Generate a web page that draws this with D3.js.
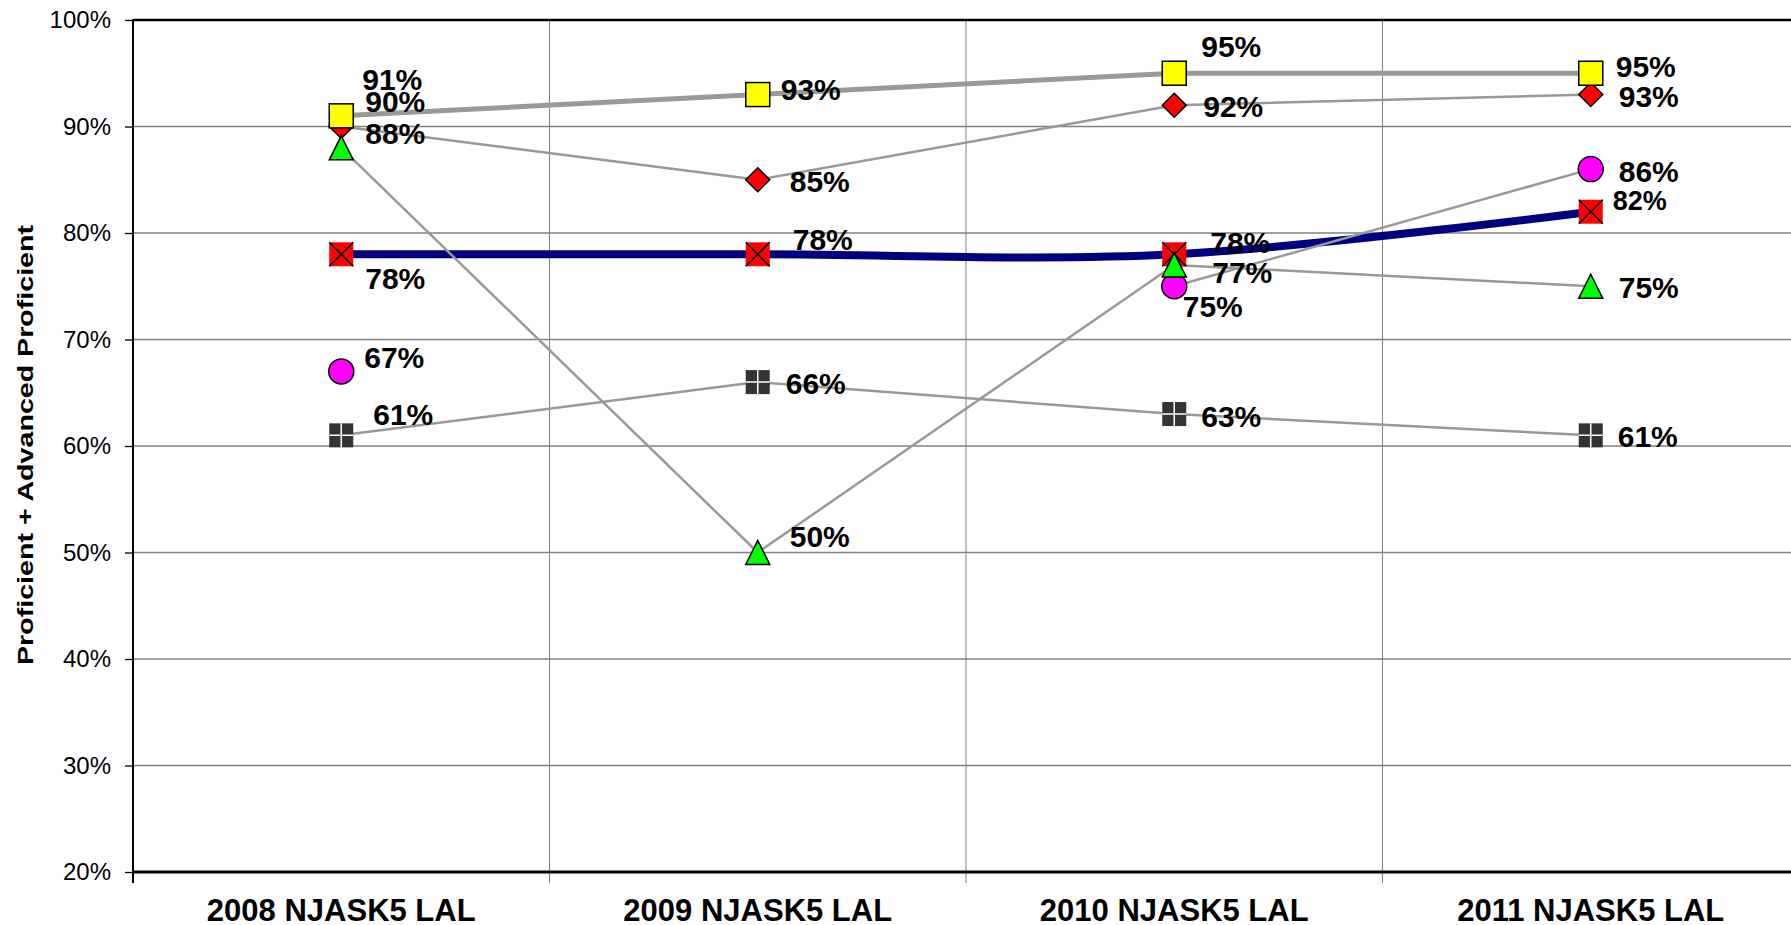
<!DOCTYPE html>
<html>
<head>
<meta charset="utf-8">
<script src="https://cdn.jsdelivr.net/npm/d3@7"></script>
<style>
  body { margin: 0; background: #fff; }
  svg { display: block; font-family: "Liberation Sans", Arial, sans-serif; }
</style>
</head>
<body>
<svg id="chart" width="1791" height="925"></svg>
<script>
// ---- data ----
const categories = ["2008 NJASK5 LAL", "2009 NJASK5 LAL", "2010 NJASK5 LAL", "2011 NJASK5 LAL"];
const navyValues     = [0.78, 0.78, 0.78, 0.82];
const yellowValues   = [0.91, 0.93, 0.95, 0.95];
const diamondValues  = [0.90, 0.85, 0.92, 0.93];
const triangleValues = [0.88, 0.50, 0.77, 0.75];
const circleValues   = [0.67, null, 0.75, 0.86];
const gridValues     = [0.61, 0.66, 0.63, 0.61];
const yTicks = [0.2, 0.3, 0.4, 0.5, 0.6, 0.7, 0.8, 0.9, 1.0];
const yTitle = "Proficient + Advanced Proficient";

// ---- label nudges (dx from marker centre, dy to text baseline) ----
const labelNudge = {
  navy:     [[24, 35], [35, -4], [36, -1], [22, -2]],
  yellow:   [[21, -26], [23, 5.5], [27, -16], [25, 4]],
  diamond:  [[24, -14.5], [32, 12], [29, 12], [28, 12]],
  triangle: [[24, -4], [32, -6], [38, 17.7], [28, 12]],
  circle:   [[23, -3], [0, 0], [8.5, 31], [28, 12.6]],
  grid:     [[32, -10], [28, 12], [27, 12.7], [27, 12]]
};

// ---- layout ----
const W = 1791, H = 925;
const plot = { left: 133, top: 20, width: 1666, height: 852 };
const svg = d3.select("#chart");

const x = d3.scaleBand().domain(categories)
  .range([plot.left, plot.left + plot.width]).paddingInner(0).paddingOuter(0);
const y = d3.scaleLinear().domain([0.2, 1.0]).range([plot.top + plot.height, plot.top]);
const cx = c => x(c) + x.bandwidth() / 2;
const pct = d3.format(".0%");
const bottom = plot.top + plot.height;
const right = plot.left + plot.width;

// ---- gridlines ----
const grid = svg.append("g");
grid.selectAll("line.h").data(yTicks.filter(t => t > 0.2 && t < 1.0)).join("line")
  .attr("x1", plot.left).attr("x2", right)
  .attr("y1", d => y(d)).attr("y2", d => y(d))
  .attr("stroke", "#808080").attr("stroke-width", 1.4);
grid.selectAll("line.v").data(categories.slice(1)).join("line")
  .attr("x1", d => x(d)).attr("x2", d => x(d))
  .attr("y1", plot.top).attr("y2", bottom + 11)
  .attr("stroke", "#808080").attr("stroke-width", 1);

// ---- y axis ----
const yAxis = svg.append("g").attr("transform", `translate(${plot.left},0)`)
  .call(d3.axisLeft(y).tickValues(yTicks).tickFormat(pct).tickSize(8).tickPadding(14));
yAxis.select(".domain").remove();
yAxis.selectAll(".tick line").attr("stroke", "#000").attr("stroke-width", 1.3);
yAxis.selectAll(".tick text").attr("font-size", 24).attr("fill", "#000")
  .attr("font-family", "'Liberation Sans', Arial, sans-serif");

// ---- x axis ----
const xAxis = svg.append("g").attr("transform", `translate(0,${bottom})`)
  .call(d3.axisBottom(x).tickSize(0).tickPadding(27));
xAxis.select(".domain").remove();
xAxis.selectAll(".tick text").attr("font-size", 31).attr("font-weight", "bold").attr("fill", "#000")
  .attr("font-family", "'Liberation Sans', Arial, sans-serif");

// ---- frame ----
svg.append("line").attr("x1", plot.left).attr("x2", W).attr("y1", plot.top).attr("y2", plot.top)
  .attr("stroke", "#000").attr("stroke-width", 2.5);
svg.append("line").attr("x1", plot.left).attr("x2", plot.left).attr("y1", plot.top - 1).attr("y2", bottom + 11)
  .attr("stroke", "#000").attr("stroke-width", 2);
svg.append("line").attr("x1", plot.left).attr("x2", W).attr("y1", bottom).attr("y2", bottom)
  .attr("stroke", "#000").attr("stroke-width", 3);

// ---- y title (wide bold lettering) ----
svg.append("text")
  .attr("transform", `translate(33,445) rotate(-90)`)
  .attr("text-anchor", "middle")
  .attr("font-size", 22.5).attr("font-weight", "bold")
  .attr("textLength", 440).attr("lengthAdjust", "spacingAndGlyphs")
  .text(yTitle);

// ---- marker shapes (centred on 0,0) ----
const s = 12;
const markers = {
  yellow: g => g.append("rect").attr("x", -s).attr("y", -s).attr("width", 2 * s).attr("height", 2 * s)
    .attr("fill", "#ffff00").attr("stroke", "#000").attr("stroke-width", 1.5),
  diamond: g => g.append("path").attr("d", `M0,${-s}L${s},0L0,${s}L${-s},0Z`)
    .attr("fill", "#ff0000").attr("stroke", "#000").attr("stroke-width", 1.5),
  triangle: g => g.append("path").attr("d", `M0,${-s}L${s},${s}L${-s},${s}Z`)
    .attr("fill", "#00ff00").attr("stroke", "#000").attr("stroke-width", 1.5),
  circle: g => g.append("circle").attr("r", 12.5)
    .attr("fill", "#ff00ff").attr("stroke", "#000").attr("stroke-width", 1.5),
  grid: g => {
    g.append("rect").attr("x", -s).attr("y", -s).attr("width", 2 * s).attr("height", 2 * s).attr("fill", "#333333");
    g.append("path").attr("d", `M0,${-s}V${s}M${-s},0H${s}`).attr("stroke", "#fff").attr("stroke-width", 1.5);
  },
  navy: g => {
    g.append("rect").attr("x", -s).attr("y", -s).attr("width", 2 * s).attr("height", 2 * s).attr("fill", "#ff0000");
    g.append("path").attr("d", `M${-s},${-s}L${s},${s}M${s},${-s}L${-s},${s}`).attr("stroke", "#000").attr("stroke-width", 1.5);
  }
};

// ---- series (draw order) ----
const series = [
  { key: "navy", values: navyValues, color: "#000080", width: 8, curve: d3.curveCardinal.tension(0) },
  { key: "diamond", values: diamondValues, color: "#999999", width: 2.5, curve: d3.curveLinear },
  { key: "yellow", values: yellowValues, color: "#999999", width: 5, curve: d3.curveLinear },
  { key: "grid", values: gridValues, color: "#999999", width: 2.5, curve: d3.curveLinear },
  { key: "circle", values: circleValues, color: "#999999", width: 2.5, curve: d3.curveLinear },
  { key: "triangle", values: triangleValues, color: "#999999", width: 2.5, curve: d3.curveLinear }
];

const pts = sr => categories.map((c, i) => ({ c, i, v: sr.values[i] }));

series.forEach(sr => {
  const line = d3.line().defined(d => d.v != null)
    .x(d => cx(d.c)).y(d => y(d.v)).curve(sr.curve);
  svg.append("path").datum(pts(sr))
    .attr("d", line).attr("fill", "none")
    .attr("stroke", sr.color).attr("stroke-width", sr.width)
    .attr("stroke-linejoin", "round");
});

series.forEach(sr => {
  pts(sr).filter(d => d.v != null).forEach(d => {
    const g = svg.append("g").attr("transform", `translate(${cx(d.c)},${y(d.v)})`);
    markers[sr.key](g);
  });
});

// ---- data labels ----
series.forEach(sr => {
  pts(sr).filter(d => d.v != null).forEach(d => {
    const [dx, dy] = labelNudge[sr.key][d.i];
    svg.append("text")
      .attr("x", cx(d.c) + dx).attr("y", y(d.v) + dy)
      .attr("font-size", sr.key === "navy" && d.i === 3 ? 27 : 30)
      .attr("font-weight", "bold").attr("fill", "#000")
      .text(pct(d.v));
  });
});
</script>
</body>
</html>
